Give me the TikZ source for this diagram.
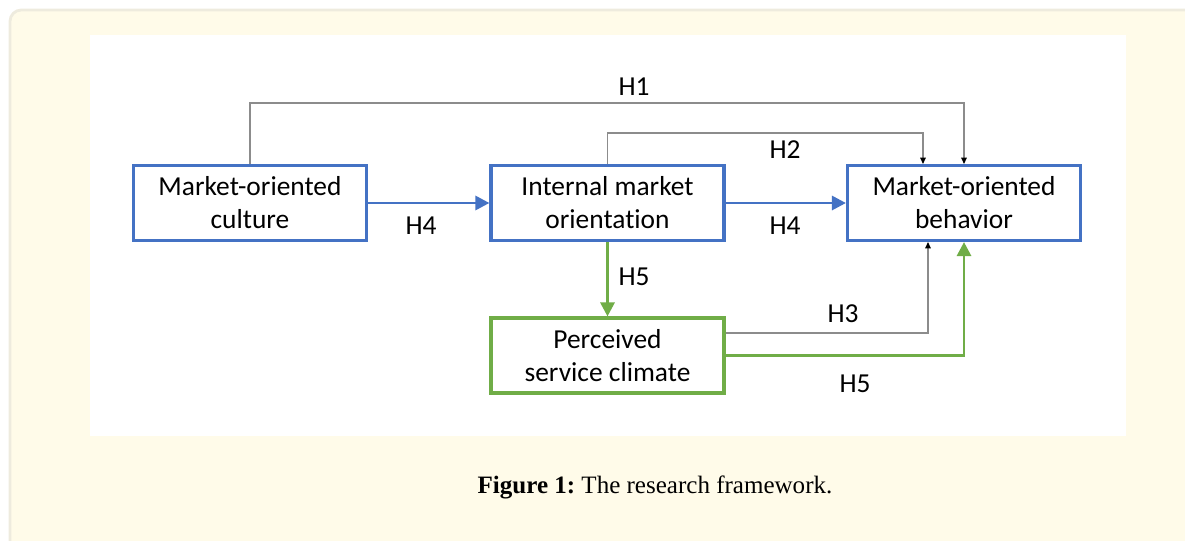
\documentclass[tikz,border=0pt]{standalone}
\usepackage{fontspec}
\setmainfont{Carlito}[Ligatures=NoCommon]
\newfontfamily\capfont{Liberation Serif}
\usetikzlibrary{arrows.meta}

\definecolor{boxblue}{RGB}{68,114,196}
\definecolor{boxgreen}{RGB}{112,173,71}
\definecolor{linkgray}{RGB}{140,140,140}
\definecolor{panelfill}{RGB}{255,251,233}
\definecolor{panelrule}{RGB}{238,235,222}

\begin{document}
\begin{tikzpicture}[x=0.025cm, y=-0.025cm,
  construct/.style={draw=boxblue, fill=white, line width=2.2pt, minimum width=5.825cm,
    minimum height=1.875cm, inner sep=0pt, align=center,
    font=\fontsize{19.5}{23.5}\selectfont},
  hyp/.style={inner sep=0pt, font=\fontsize{19.5}{23.5}\selectfont},
  path blue/.style={draw=boxblue, line width=2.1pt, -{Triangle[length=10pt,width=10pt]}},
  path green/.style={draw=boxgreen, line width=2.1pt, -{Triangle[length=10pt,width=10pt]}},
  path gray/.style={draw=linkgray, line width=0.8pt, -{Triangle[length=4.5pt,width=4pt,fill=black,color=black]}}]
  \useasboundingbox (0,0) rectangle (1185,540);
  \clip (0,0) rectangle (1185,540);
  % page panel and white figure area
  \draw[panelrule, fill=panelfill, line width=2pt, rounded corners=8pt] (10,10) rectangle (1230,590);
  \fill[white] (90,35) rectangle (1126,436);

  % constructs
  \node[construct] (culture) at (250,203) {Market-oriented\\culture};
  \node[construct] (imo) at (607.5,203) {Internal market\\orientation};
  \node[construct] (behavior) at (964,203) {Market-oriented\\behavior};
  \node[construct, draw=boxgreen] (climate) at (607.5,355.5) {Perceived\\service climate};

  % hypotheses
  \draw[path gray] (culture.north) -- ++(0,-61) -| (behavior.north);
  \draw[path gray] (imo.north) -- ++(0,-31) -| ([xshift=-1.025cm]behavior.north);
  \draw[path gray] ([yshift=0.5625cm]climate.east) -| ([xshift=-0.9cm]behavior.south);
  \draw[path blue] (culture.east) -- (imo.west);
  \draw[path blue] (imo.east) -- (behavior.west);
  \draw[path green] (imo.south) -- (climate.north);
  \draw[path green] (climate.east) -| (behavior.south);

  \node[hyp] (h1) at (634,87) {H1};
  \node[hyp] (h2) at (785,150) {H2};
  \node[hyp] (h4a) at (421,226) {H4};
  \node[hyp] (h4b) at (785,226) {H4};
  \node[hyp] (h5a) at (634,277) {H5};
  \node[hyp] (h3) at (843,314) {H3};
  \node[hyp] (h5b) at (855,384) {H5};

  \node[font=\capfont\fontsize{17.8}{21}\selectfont, inner sep=0pt] (caption) at (655,487)
    {\textbf{Figure 1:}\hspace{0.25em}The research framework.};
\end{tikzpicture}
\end{document}
